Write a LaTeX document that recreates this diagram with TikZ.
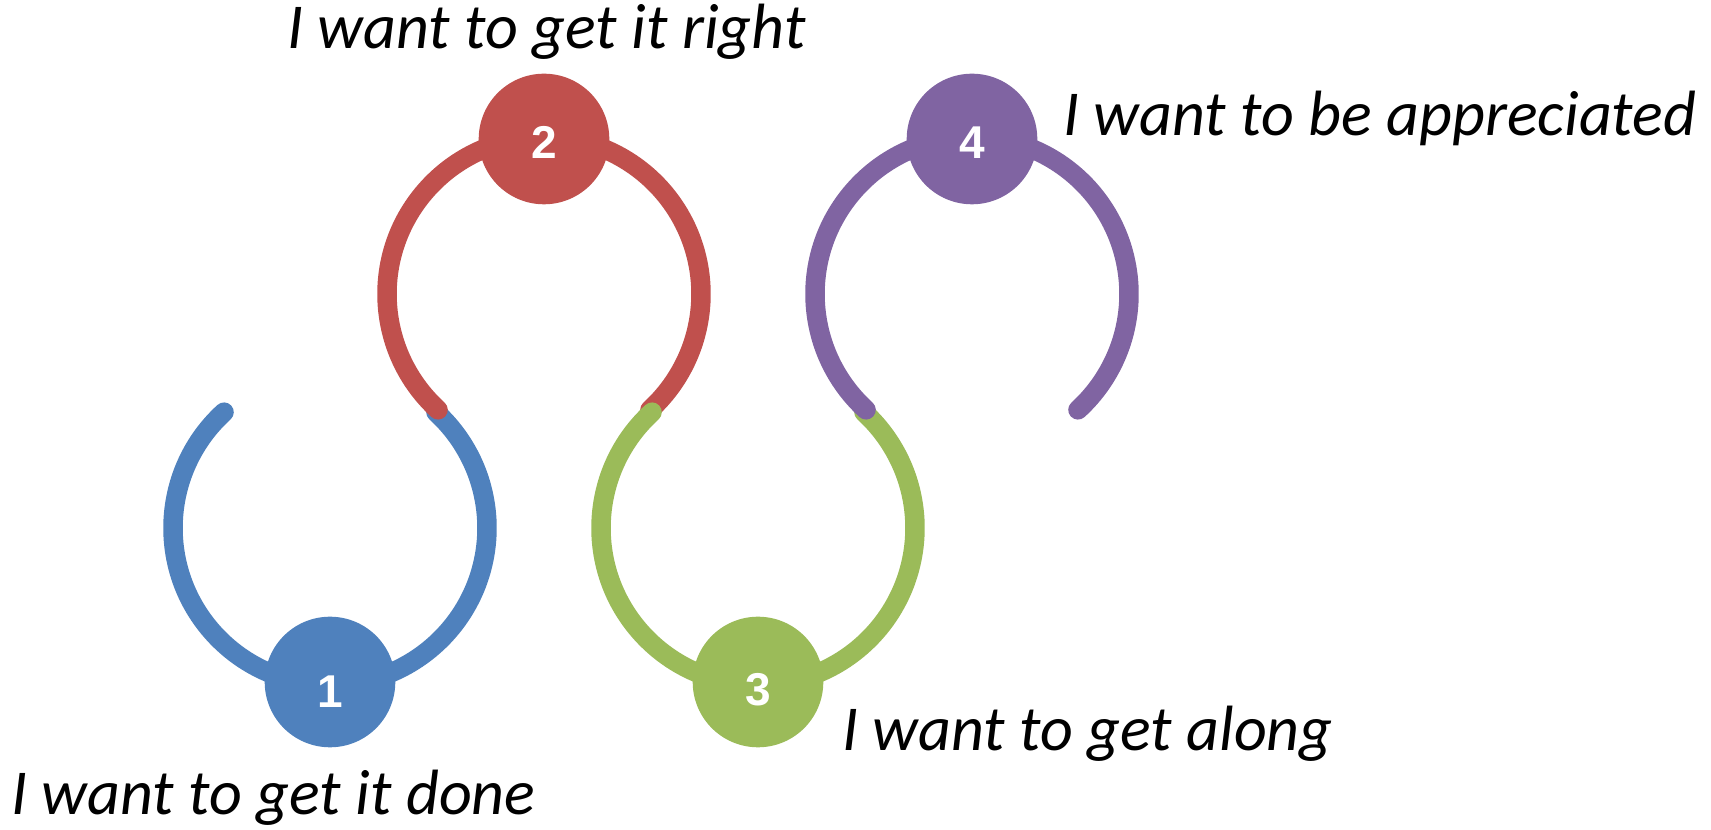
\documentclass[tikz,border=0pt]{standalone}
\usepackage{fontspec}
\setmainfont{Carlito}
\newfontfamily\numfont{Liberation Sans}
\definecolor{cblue}{HTML}{4F81BD}
\definecolor{cred}{HTML}{C0504D}
\definecolor{cgreen}{HTML}{9BBB59}
\definecolor{cpurple}{HTML}{8064A2}
\tikzset{
  ring/.style={line width=19.5pt, line cap=round},
  dot/.style={circle, minimum size=130.6pt, inner sep=0pt},
  num/.style={text=white, font=\numfont\bfseries\fontsize{46}{50}\selectfont, inner sep=0pt},
  lbl/.style={anchor=base west, inner sep=0pt, font=\fontsize{64}{76}\selectfont\itshape}
}
\begin{document}
\begin{tikzpicture}[x=1pt,y=1pt]
\useasboundingbox (0,0) rectangle (1711,830);
\def\t{47.55}
\coordinate (cb) at (330,302);
\coordinate (cr) at (544,536);
\coordinate (cg) at (758,302);
\coordinate (cp) at (972,536);
% arcs
\draw[ring, cblue] (cb) ++(180-\t:157) arc[start angle=180-\t, end angle=360+\t, radius=157pt];
\draw[ring, cred] (cr) ++(180+\t:157) arc[start angle=180+\t, end angle=-\t, radius=157pt];
\draw[ring, cgreen] (cg) ++(180-\t:157) arc[start angle=180-\t, end angle=360+\t, radius=157pt];
\draw[ring, cpurple] (cp) ++(180+\t:157) arc[start angle=180+\t, end angle=-\t, radius=157pt];
% circles
\node[dot, fill=cblue] (n1) at (330,148) {};
\node[dot, fill=cred] (n2) at (544,691) {};
\node[dot, fill=cgreen] (n3) at (758,148) {};
\node[dot, fill=cpurple] (n4) at (972,691) {};
\node[num] (d1) at ([yshift=-10pt]n1.center) {1};
\node[num] (d2) at ([yshift=-3pt]n2.center) {2};
\node[num] (d3) at ([yshift=-8pt]n3.center) {3};
\node[num] (d4) at ([yshift=-4pt]n4.center) {4};
% labels
\node[lbl] (l1) at (11,15) {I want to get it done};
\node[lbl] (l2) at (287,781) {I want to get it right};
\node[lbl] (l3) at (842,79) {I want to get along};
\node[lbl] (l4) at (1063,694) {I want to be appreciated};
\end{tikzpicture}
\end{document}
